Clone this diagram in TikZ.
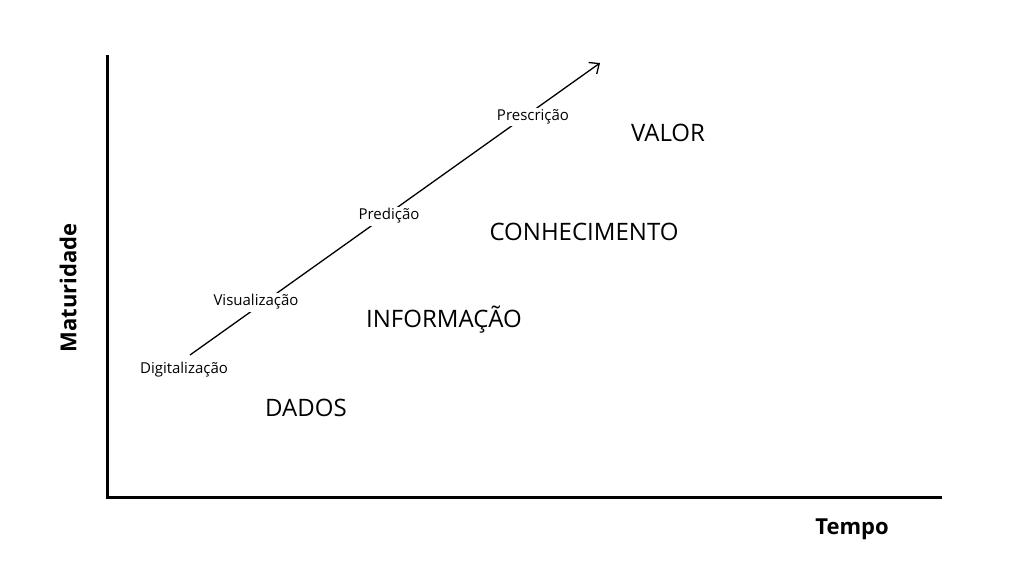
\documentclass[tikz,border=0pt]{standalone}
\usepackage{fontspec}
\setmainfont{Open Sans}
\usetikzlibrary{arrows.meta}
\begin{document}
\begin{tikzpicture}[x=1pt,y=-1pt,
  small/.style={font=\fontsize{15}{18}\selectfont, fill=white, inner sep=2pt},
  big/.style={font=\fontsize{24}{28}\selectfont},
  axlab/.style={font=\bfseries\fontsize{22}{26}\selectfont}]
\useasboundingbox[fill=white] (0,0) rectangle (1024,576);
\coordinate (o) at (107,497);
\coordinate (ytop) at (107,55);
\coordinate (xend) at (942,497);
\draw[line width=3pt] (ytop) -- (o) -- (xend);
\coordinate (a0) at (190,355);
\coordinate (a1) at (600,63);
\draw[line width=1.3pt,-{Straight Barb[length=8pt,width=14pt]}] (a0) -- (a1);
\node[small] (dig) at (184,370) {Digitalização};
\node[small] (vis) at (256,302) {Visualização};
\node[small] (pred) at (389,216) {Predição};
\node[small] (pres) at (533,117) {Prescrição};
\node[big] (dados) at (306,408) {DADOS};
\node[big] (info) at (444,320) {INFORMAÇÃO};
\node[big] (con) at (584,232) {CONHECIMENTO};
\node[big] (valor) at (668,133) {VALOR};
\node[axlab,rotate=90] (mat) at (68,288) {Maturidade};
\node[axlab] (tempo) at (852,529) {Tempo};
\end{tikzpicture}
\end{document}
